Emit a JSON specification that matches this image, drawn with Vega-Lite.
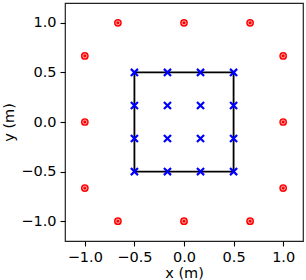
{
  "$schema": "https://vega.github.io/schema/vega-lite/v6.json",
  "autosize": "none",
  "width": 238,
  "height": 238,
  "padding": {"left": 65, "top": 3, "right": 3, "bottom": 39},
  "background": "white",
  "config": {
    "view": {"stroke": "#222222", "strokeWidth": 1.2},
    "font": "DejaVu Sans",
    "axis": {
      "domain": false,
      "grid": false,
      "ticks": true,
      "tickColor": "black",
      "tickSize": 5,
      "tickWidth": 1.1,
      "labelFont": "DejaVu Sans",
      "labelFontSize": 14.5,
      "labelColor": "black",
      "labelPadding": 4,
      "titleFont": "DejaVu Sans",
      "titleFontSize": 14.5,
      "titleFontWeight": "normal",
      "titleColor": "black"
    }
  },
  "datasets": {
    "red": [
      {"x": -1, "y": -0.6667}, {"x": -1, "y": 0}, {"x": -1, "y": 0.6667},
      {"x": 1, "y": -0.6667}, {"x": 1, "y": 0}, {"x": 1, "y": 0.6667},
      {"x": -0.6667, "y": -1}, {"x": 0, "y": -1}, {"x": 0.6667, "y": -1},
      {"x": -0.6667, "y": 1}, {"x": 0, "y": 1}, {"x": 0.6667, "y": 1}
    ],
    "blue": [
      {"x": -0.5, "y": -0.5}, {"x": -0.1667, "y": -0.5}, {"x": 0.1667, "y": -0.5}, {"x": 0.5, "y": -0.5},
      {"x": -0.5, "y": -0.1667}, {"x": -0.1667, "y": -0.1667}, {"x": 0.1667, "y": -0.1667}, {"x": 0.5, "y": -0.1667},
      {"x": -0.5, "y": 0.1667}, {"x": -0.1667, "y": 0.1667}, {"x": 0.1667, "y": 0.1667}, {"x": 0.5, "y": 0.1667},
      {"x": -0.5, "y": 0.5}, {"x": -0.1667, "y": 0.5}, {"x": 0.1667, "y": 0.5}, {"x": 0.5, "y": 0.5}
    ],
    "square": [
      {"x": -0.5, "y": -0.5, "o": 0}, {"x": 0.5, "y": -0.5, "o": 1},
      {"x": 0.5, "y": 0.5, "o": 2}, {"x": -0.5, "y": 0.5, "o": 3},
      {"x": -0.5, "y": -0.5, "o": 4}
    ]
  },
  "encoding": {
    "x": {"field": "x", "type": "quantitative", "scale": {"domain": [-1.2, 1.2], "nice": false, "zero": false},
      "axis": {"title": "x (m)", "values": [-1, -0.5, 0, 0.5, 1], "format": ".1f", "titlePadding": 3}},
    "y": {"field": "y", "type": "quantitative", "scale": {"domain": [-1.2, 1.2], "nice": false, "zero": false},
      "axis": {"title": "y (m)", "values": [-1, -0.5, 0, 0.5, 1], "format": ".1f", "titlePadding": 4}}
  },
  "layer": [
    {"data": {"name": "square"}, "mark": {"type": "line", "color": "black", "strokeWidth": 1.8}, "encoding": {"order": {"field": "o"}}},
    {"data": {"name": "blue"}, "mark": {"type": "point", "shape": "M-1,-1L1,1M1,-1L-1,1", "filled": false, "stroke": "#0000ff", "strokeWidth": 2.2, "size": 50, "opacity": 1}},
    {"data": {"name": "red"}, "mark": {"type": "point", "shape": "circle", "filled": true, "color": "#ff0000", "size": 60, "opacity": 1}},
    {"data": {"name": "red"}, "mark": {"type": "point", "shape": "circle", "filled": false, "stroke": "#ffb0b0", "strokeWidth": 1, "size": 16, "opacity": 1}}
  ]
}
